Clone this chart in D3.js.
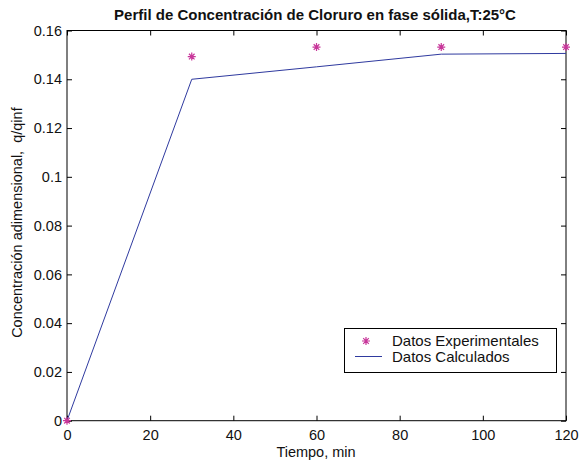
<!DOCTYPE html>
<html><head><meta charset="utf-8">
<script src="https://cdn.jsdelivr.net/npm/d3@7"></script>
<style>body{margin:0;background:#fff}text{font-family:"Liberation Sans",Arial,sans-serif}</style>
</head><body><svg id="c" width="586" height="466"></svg>
<script>
const expTime = [0, 30, 60, 90, 120];
const expValues = [0, 0.1493, 0.1532, 0.1532, 0.1532];
const calcTime = [0, 30, 60, 90, 120];
const calcValues = [0, 0.1400, 0.1451, 0.1503, 0.1506];
const xTicks = [0, 20, 40, 60, 80, 100, 120];
const yTicks = [0, 0.02, 0.04, 0.06, 0.08, 0.1, 0.12, 0.14, 0.16];
const yTickLabels = ["0", "0.02", "0.04", "0.06", "0.08", "0.1", "0.12", "0.14", "0.16"];
const seriesNames = ["Datos Experimentales", "Datos Calculados"];

const svg = d3.select("#c");
const L = 67, R = 566, T = 30.5, B = 420.7;
const x = d3.scaleLinear().domain([0, 120]).range([L, R]);
const y = d3.scaleLinear().domain([0, 0.16]).range([B, T]);
const markerColor = "#c8369a", lineColor = "#2f3a9f";
const FS = 14.5;

svg.append("rect").attr("x", L).attr("y", T).attr("width", R - L).attr("height", B - T)
  .attr("fill", "none").attr("stroke", "#000").attr("stroke-width", 1);

const ax = svg.append("g").attr("transform", `translate(0,${B})`)
  .call(d3.axisBottom(x).tickValues(xTicks).tickSize(-5).tickPadding(9).tickFormat(d3.format("d")));
const axTop = svg.append("g").attr("transform", `translate(0,${T})`)
  .call(d3.axisTop(x).tickValues(xTicks).tickSize(-5).tickFormat(""));
const ay = svg.append("g").attr("transform", `translate(${L},0)`)
  .call(d3.axisLeft(y).tickValues(yTicks).tickSize(-5).tickPadding(5).tickFormat((d, i) => yTickLabels[i]));
const ayR = svg.append("g").attr("transform", `translate(${R},0)`)
  .call(d3.axisRight(y).tickValues(yTicks).tickSize(-5).tickFormat(""));
[ax, axTop, ay, ayR].forEach(g => {
  g.select(".domain").remove();
  g.selectAll("line").attr("stroke", "#000");
  g.selectAll("text").attr("font-size", FS).attr("fill", "#111")
    .style("font-family", '"Liberation Sans",Arial,sans-serif');
});

svg.append("path").datum(calcTime.map((t, i) => [t, calcValues[i]]))
  .attr("d", d3.line().x(d => x(d[0])).y(d => y(d[1])))
  .attr("fill", "none").attr("stroke", lineColor).attr("stroke-width", 1);

const starPath = (s) => `M${-s},0L${s},0M0,${-s}L0,${s}M${-s*0.7},${-s*0.7}L${s*0.7},${s*0.7}M${-s*0.7},${s*0.7}L${s*0.7},${-s*0.7}`;
svg.append("g").selectAll("path").data(expTime.map((t, i) => [t, expValues[i]])).join("path")
  .attr("transform", d => `translate(${x(d[0])},${y(d[1])})`)
  .attr("d", starPath(4)).attr("stroke", markerColor).attr("stroke-width", 1.2).attr("fill", "none");

svg.append("text").attr("x", 315).attr("y", 19.5).attr("text-anchor", "middle")
  .attr("font-size", 15).attr("font-weight", "bold").attr("fill", "#111")
  .text("Perfil de Concentración de Cloruro en fase sólida,T:25°C");
svg.append("text").attr("x", 316).attr("y", 457).attr("text-anchor", "middle")
  .attr("font-size", FS).attr("fill", "#111").text("Tiempo, min");
svg.append("text").attr("transform", `translate(22,${(T + B) / 2 - 3}) rotate(-90)`)
  .attr("text-anchor", "middle").attr("font-size", FS).attr("fill", "#111")
  .style("white-space", "pre").text("Concentración adimensional,  q/qinf");

const lg = svg.append("g");
lg.append("rect").attr("x", 344.5).attr("y", 328.5).attr("width", 212).attr("height", 44)
  .attr("fill", "#fff").attr("stroke", "#000").attr("stroke-width", 1);
lg.append("path").attr("transform", "translate(366,341)").attr("d", starPath(4))
  .attr("stroke", markerColor).attr("stroke-width", 1.2).attr("fill", "none");
lg.append("line").attr("x1", 355).attr("x2", 382).attr("y1", 356.5).attr("y2", 356.5)
  .attr("stroke", lineColor).attr("stroke-width", 1);
seriesNames.forEach((n, i) => {
  lg.append("text").attr("x", 392).attr("y", 346 + i * 15.5).attr("font-size", 15)
    .attr("fill", "#111").text(n);
});
</script></body></html>
